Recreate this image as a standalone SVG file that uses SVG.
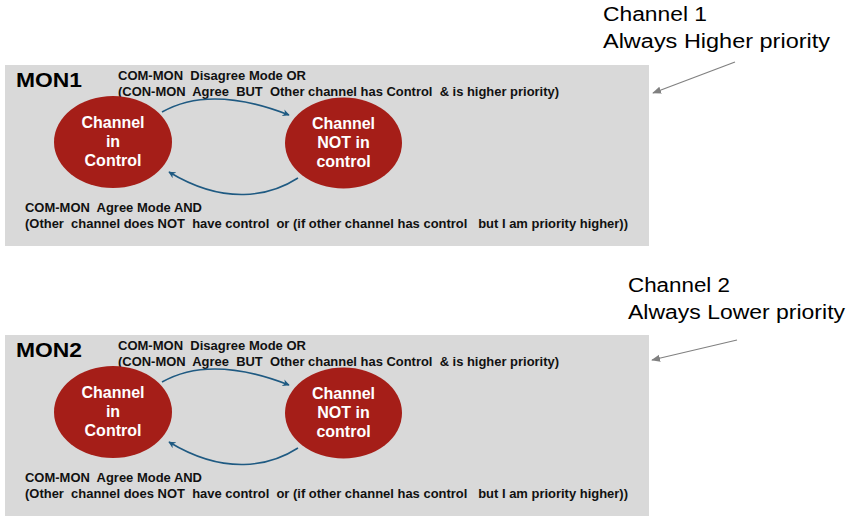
<svg xmlns="http://www.w3.org/2000/svg" width="855" height="523" viewBox="0 0 855 523">
<defs>
<marker id="ab" viewBox="0 0 10 10" refX="9" refY="5" markerWidth="7" markerHeight="7" orient="auto" markerUnits="userSpaceOnUse"><path d="M0,0 L10,5 L0,10 L3,5 z" fill="#1f5a82"/></marker>
<marker id="ag" viewBox="0 0 10 10" refX="9" refY="5" markerWidth="9" markerHeight="9" orient="auto" markerUnits="userSpaceOnUse"><path d="M0,1 L10,5 L0,9 z" fill="#808080"/></marker>
</defs>
<style>
.panel{fill:#d9d9d9}
.mon{font-family:"Liberation Sans",Arial,sans-serif;font-weight:bold;font-size:20px;fill:#000}
.lbl{font-family:"Liberation Sans",Arial,sans-serif;font-weight:bold;font-size:12.5px;fill:#111;white-space:pre}
.node{fill:#a51e18}
.nt{font-family:"Liberation Sans",Arial,sans-serif;font-weight:bold;font-size:16px;fill:#fff;text-anchor:middle}
.conn{fill:none;stroke:#1f5a82;stroke-width:1.5}
.call{font-family:"Liberation Sans",Arial,sans-serif;font-size:20px;fill:#000;white-space:pre}
.garrow{fill:none;stroke:#808080;stroke-width:1.2}
</style>

<g id="panel1">
<rect class="panel" x="5" y="65" width="644" height="181"/>
<text class="mon" x="16" y="87" textLength="66" lengthAdjust="spacingAndGlyphs">MON1</text>
<text class="lbl" x="118" y="80" xml:space="preserve" textLength="188" lengthAdjust="spacingAndGlyphs">COM-MON  Disagree Mode OR</text>
<text class="lbl" x="118" y="96" xml:space="preserve" textLength="441" lengthAdjust="spacingAndGlyphs">(CON-MON  Agree  BUT  Other channel has Control  &amp; is higher priority)</text>
<text class="lbl" x="25" y="212" xml:space="preserve" textLength="177" lengthAdjust="spacingAndGlyphs">COM-MON  Agree Mode AND</text>
<text class="lbl" x="25" y="228" xml:space="preserve" textLength="603" lengthAdjust="spacingAndGlyphs">(Other  channel does NOT  have control  or (if other channel has control   but I am priority higher))</text>
</g>
<g id="node1a">
<ellipse class="node" cx="113" cy="142" rx="59" ry="46"/>
<text class="nt" x="113" y="128">Channel</text>
<text class="nt" x="113" y="147">in</text>
<text class="nt" x="113" y="166">Control</text>
</g>
<g id="node1b">
<ellipse class="node" cx="343.5" cy="143" rx="58.5" ry="45.5"/>
<text class="nt" x="343.5" y="129">Channel</text>
<text class="nt" x="343.5" y="148">NOT in</text>
<text class="nt" x="343.5" y="167">control</text>
</g>

<g id="panel2">
<rect class="panel" x="5" y="335" width="644" height="181"/>
<text class="mon" x="16" y="357" textLength="66" lengthAdjust="spacingAndGlyphs">MON2</text>
<text class="lbl" x="118" y="350" xml:space="preserve" textLength="188" lengthAdjust="spacingAndGlyphs">COM-MON  Disagree Mode OR</text>
<text class="lbl" x="118" y="366" xml:space="preserve" textLength="441" lengthAdjust="spacingAndGlyphs">(CON-MON  Agree  BUT  Other channel has Control  &amp; is higher priority)</text>
<text class="lbl" x="25" y="482" xml:space="preserve" textLength="177" lengthAdjust="spacingAndGlyphs">COM-MON  Agree Mode AND</text>
<text class="lbl" x="25" y="498" xml:space="preserve" textLength="603" lengthAdjust="spacingAndGlyphs">(Other  channel does NOT  have control  or (if other channel has control   but I am priority higher))</text>
</g>
<g id="node2a">
<ellipse class="node" cx="113" cy="412" rx="59" ry="46"/>
<text class="nt" x="113" y="398">Channel</text>
<text class="nt" x="113" y="417">in</text>
<text class="nt" x="113" y="436">Control</text>
</g>
<g id="node2b">
<ellipse class="node" cx="343.5" cy="413" rx="58.5" ry="45.5"/>
<text class="nt" x="343.5" y="399">Channel</text>
<text class="nt" x="343.5" y="418">NOT in</text>
<text class="nt" x="343.5" y="437">control</text>
</g>

<g id="callout1">
<text class="call" x="603" y="21" textLength="104" lengthAdjust="spacingAndGlyphs">Channel 1</text>
<text class="call" x="603" y="48" textLength="227" lengthAdjust="spacingAndGlyphs">Always Higher priority</text>
</g>
<g id="callout2">
<text class="call" x="628" y="292" textLength="102" lengthAdjust="spacingAndGlyphs">Channel 2</text>
<text class="call" x="628" y="319" textLength="217" lengthAdjust="spacingAndGlyphs">Always Lower priority</text>
</g>

<g id="connectors">
<path class="conn" d="M162,112 C190,96 230,92 289,115" marker-end="url(#ab)"/>
<path class="conn" d="M298,178 C270,196 225,206 169,172" marker-end="url(#ab)"/>
<path class="conn" d="M162,382 C190,366 230,362 289,385" marker-end="url(#ab)"/>
<path class="conn" d="M298,448 C270,466 225,476 169,442" marker-end="url(#ab)"/>
<path class="garrow" d="M735,62 L653,93" marker-end="url(#ag)"/>
<path class="garrow" d="M737,340 L652,360" marker-end="url(#ag)"/>
</g>
</svg>
